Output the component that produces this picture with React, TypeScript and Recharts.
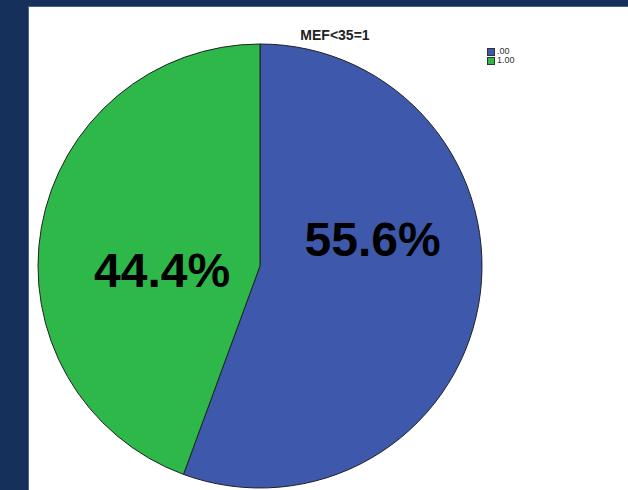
import { PieChart, Pie, Cell } from 'recharts'

const categories = ['.00', '1.00']
const shares = [55.6, 44.4]
const colors = ['#3e58ab', '#2eb84a']

const data = categories.map((name, i) => ({ name, value: shares[i] }))

// label spots as fractions of the radius (SPSS doesn't put them on the mid angle)
const labelSpots = [
  { dx: 0.507, dy: -0.045 },
  { dx: -0.441, dy: 0.095 },
]

const renderLabel = (props: any) => {
  const { cx, cy, outerRadius, index, percent } = props
  const spot = labelSpots[index]
  return (
    <text
      x={cx + spot.dx * outerRadius}
      y={cy + spot.dy * outerRadius}
      textAnchor="middle"
      fill="#000"
      fontSize={48}
      fontWeight="bold"
      fontFamily="'Liberation Sans', Arial, sans-serif"
    >
      {(percent * 100).toFixed(1)}%
    </text>
  )
}

export default function App() {
  return (
    <div
      style={{
        position: 'absolute',
        left: 0,
        top: 0,
        width: 628,
        height: 490,
        background: '#15305a',
        overflow: 'hidden',
      }}
    >
      <div
        style={{
          position: 'absolute',
          left: 28,
          top: 6,
          width: 600,
          height: 484,
          background: '#fff',
          borderLeft: '1px solid #4b6285',
          borderTop: '1px solid #4b6285',
          boxSizing: 'border-box',
        }}
      >
        <PieChart width={599} height={483}>
          <Pie
            data={data}
            dataKey="value"
            nameKey="name"
            cx={226}
            cy={254}
            outerRadius={222}
            startAngle={90}
            endAngle={-270}
            stroke="#222"
            strokeWidth={1}
            label={renderLabel}
            labelLine={false}
            isAnimationActive={false}
          >
            {data.map((d, i) => (
              <Cell key={d.name} fill={colors[i]} />
            ))}
          </Pie>
        </PieChart>

        {/* title */}
        <div
          style={{
            position: 'absolute',
            left: 231,
            top: 20,
            width: 150,
            textAlign: 'center',
            fontFamily: "'Liberation Sans', Arial, sans-serif",
            fontSize: 14,
            fontWeight: 'bold',
            color: '#222',
            lineHeight: '16px',
          }}
        >
          MEF&lt;35=1
        </div>

        {/* legend */}
        <div
          style={{
            position: 'absolute',
            left: 458,
            top: 40,
            fontFamily: "'Liberation Sans', Arial, sans-serif",
            fontSize: 9,
            color: '#333',
          }}
        >
          {categories.map((c, i) => (
            <div key={c} style={{ display: 'flex', alignItems: 'center', height: 9, lineHeight: '9px' }}>
              <span
                style={{
                  display: 'inline-block',
                  width: 6,
                  height: 6,
                  background: colors[i],
                  border: '1px solid #333',
                  marginRight: 2,
                }}
              />
              {c}
            </div>
          ))}
        </div>
      </div>
    </div>
  )
}
